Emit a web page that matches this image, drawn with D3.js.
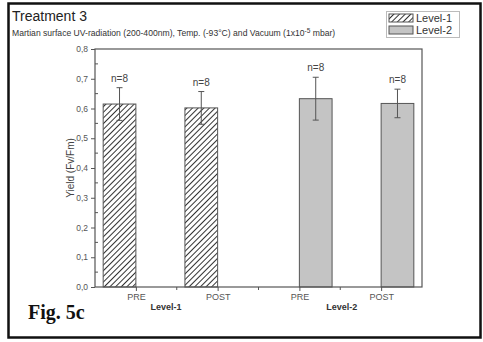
<!DOCTYPE html>
<html>
<head>
<meta charset="utf-8">
<script src="https://cdn.jsdelivr.net/npm/d3@7"></script>
<style>
  body { margin: 0; background: #fff; }
  svg { display: block; font-family: Arial, "Liberation Sans", sans-serif; }
</style>
</head>
<body>
<svg id="chart" width="483" height="342"></svg>
<script>
// values
let categories = ["PRE", "POST", "PRE", "POST"];
let groups = ["Level-1", "Level-2"];
let barGroup = [0, 0, 1, 1];
let means = [0.615, 0.602, 0.633, 0.617];
let errors = [0.055, 0.055, 0.072, 0.048];
let nLabels = ["n=8", "n=8", "n=8", "n=8"];
let yTicks = [0, 0.1, 0.2, 0.3, 0.4, 0.5, 0.6, 0.7, 0.8];

let svg = d3.select("#chart");
let plotL = 95, plotR = 422, plotT = 49, plotB = 287;

// x: categories at 1..4
let x = d3.scaleLinear().domain([0.5, 4.5]).range([plotL, plotR]);
let inner = d3.scaleBand().domain(groups).range([-0.4, 0.4]);
let y = d3.scaleLinear().domain([0, 0.8]).range([plotB, plotT]);

let fmt = d => d3.format(".1f")(d).replace(".", ",");

// outer frame
svg.append("rect")
  .attr("x", 8.5).attr("y", 3.5).attr("width", 472).attr("height", 334)
  .attr("fill", "none").attr("stroke", "#111").attr("stroke-width", 2.5);

// hatch pattern
let defs = svg.append("defs");
let pat = defs.append("pattern")
  .attr("id", "hatch").attr("patternUnits", "userSpaceOnUse")
  .attr("width", 4).attr("height", 4)
  .attr("patternTransform", "rotate(45)");
pat.append("rect").attr("width", 4).attr("height", 4).attr("fill", "#fff");
pat.append("line").attr("x1", 0).attr("y1", 0).attr("x2", 0).attr("y2", 4)
  .attr("stroke", "#333").attr("stroke-width", 2);

let fills = ["url(#hatch)", "#c4c4c4"];

// bars
svg.append("g").selectAll("rect")
  .data(means)
  .join("rect")
    .attr("x", (d, i) => x(i + 1 + inner(groups[barGroup[i]])))
    .attr("width", (d, i) => x(inner.bandwidth()) - x(0))
    .attr("y", d => y(d))
    .attr("height", d => y(0) - y(d))
    .attr("fill", (d, i) => fills[barGroup[i]])
    .attr("stroke", "#555").attr("stroke-width", 1);

let cx = i => x(i + 1 + inner(groups[barGroup[i]]) + inner.bandwidth() / 2);

// error bars
let eb = svg.append("g").attr("stroke", "#555").attr("stroke-width", 1);
means.forEach((m, i) => {
  let c = cx(i), y1 = y(m + errors[i]), y2 = y(m - errors[i]);
  eb.append("line").attr("x1", c).attr("x2", c).attr("y1", y1).attr("y2", y2);
  eb.append("line").attr("x1", c - 3).attr("x2", c + 3).attr("y1", y1).attr("y2", y1);
  eb.append("line").attr("x1", c - 3).attr("x2", c + 3).attr("y1", y2).attr("y2", y2);
});

// n labels
svg.append("g").selectAll("text")
  .data(nLabels)
  .join("text")
    .attr("x", (d, i) => cx(i))
    .attr("y", (d, i) => y(means[i] + errors[i]) - 6)
    .attr("text-anchor", "middle")
    .attr("font-size", 10).attr("fill", "#444")
    .text(d => d);

// plot frame
svg.append("rect")
  .attr("x", plotL).attr("y", plotT).attr("width", plotR - plotL).attr("height", plotB - plotT)
  .attr("fill", "none").attr("stroke", "#555").attr("stroke-width", 1.2);

// y axis
let yAxis = svg.append("g")
  .attr("transform", "translate(" + plotL + ",0)")
  .call(d3.axisLeft(y).tickValues(yTicks).tickFormat(fmt).tickSize(4).tickPadding(3));
yAxis.select(".domain").remove();
yAxis.selectAll("line").attr("stroke", "#555");
yAxis.selectAll("text").attr("font-size", 8.5).attr("fill", "#555").attr("font-family", "Arial, sans-serif");
svg.append("g").selectAll("line")
  .data(yTicks.slice(0, -1).map(d => d + 0.05))
  .join("line")
    .attr("x1", plotL).attr("x2", plotL + 3)
    .attr("y1", d => y(d)).attr("y2", d => y(d))
    .attr("stroke", "#555");

// x axis
let xAxis = svg.append("g")
  .attr("transform", "translate(0," + plotB + ")")
  .call(d3.axisBottom(x).tickValues([1, 2, 3, 4]).tickFormat((d, i) => categories[i]).tickSize(4).tickPadding(3));
xAxis.select(".domain").remove();
xAxis.selectAll("line").attr("stroke", "#555");
xAxis.selectAll("text").attr("font-size", 9).attr("fill", "#555").attr("font-family", "Arial, sans-serif");
svg.append("g").selectAll("line")
  .data([1.5, 2.5, 3.5])
  .join("line")
    .attr("x1", d => x(d)).attr("x2", d => x(d))
    .attr("y1", plotB).attr("y2", plotB + 3)
    .attr("stroke", "#555");

// group labels
svg.append("g").selectAll("text")
  .data(groups)
  .join("text")
    .attr("x", (d, i) => i === 0 ? x(1.37) : x(3.52))
    .attr("y", 310)
    .attr("text-anchor", "middle")
    .attr("font-size", 9).attr("font-weight", "bold").attr("fill", "#333")
    .text(d => d);

// y axis title
svg.append("text")
  .attr("transform", "translate(74," + y(0.4) + ") rotate(-90)")
  .attr("text-anchor", "middle")
  .attr("font-size", 10).attr("fill", "#444")
  .text("Yield (Fv/Fm)");

// titles
svg.append("text")
  .attr("x", 12).attr("y", 21)
  .attr("font-size", 14).attr("fill", "#222")
  .text("Treatment 3");

let sub = svg.append("text")
  .attr("x", 12).attr("y", 36)
  .attr("font-size", 8.6).attr("fill", "#333");
sub.append("tspan").text("Martian surface UV-radiation (200-400nm), Temp. (-93°C) and Vacuum (1x10");
sub.append("tspan").attr("dy", -3.5).attr("font-size", 6.5).text("-5");
sub.append("tspan").attr("dy", 3.5).text(" mbar)");

svg.append("text")
  .attr("x", 28).attr("y", 319)
  .attr("font-family", "'Liberation Serif', 'DejaVu Serif', serif")
  .attr("font-size", 20).attr("font-weight", "bold").attr("fill", "#111")
  .text("Fig. 5c");

// legend
let lg = svg.append("g");
lg.append("rect")
  .attr("x", 386.5).attr("y", 11.5).attr("width", 73).attr("height", 26)
  .attr("fill", "#fff").attr("stroke", "#bbb");
groups.forEach((g, i) => {
  lg.append("rect")
    .attr("x", 389).attr("y", 14 + i * 12).attr("width", 24).attr("height", 8)
    .attr("fill", fills[i]).attr("stroke", "#555");
  lg.append("text")
    .attr("x", 416).attr("y", 22 + i * 12)
    .attr("font-size", 11).attr("fill", "#333")
    .text(g);
});
</script>
</body>
</html>
